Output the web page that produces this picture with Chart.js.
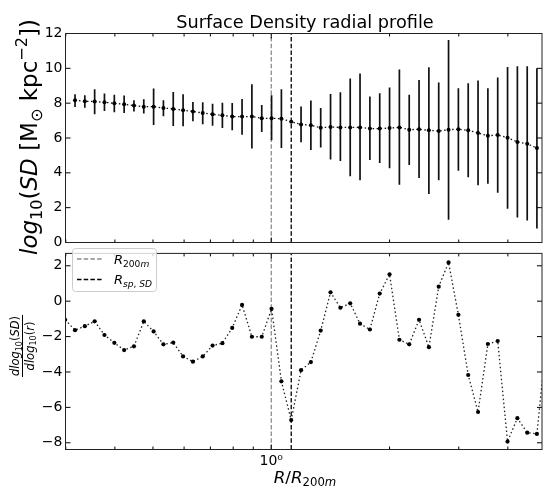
<!DOCTYPE html>
<html><head><meta charset="utf-8">
<script src="https://cdn.jsdelivr.net/npm/chart.js@4.4.1/dist/chart.umd.min.js"></script>
<style>
html,body{margin:0;padding:0;background:#fff;}
#wrap{position:relative;width:546px;height:486px;overflow:hidden;background:#fff;}
#cTop{position:absolute;left:0;top:0;width:546px;height:262px;}
#cBot{position:absolute;left:0;top:242px;width:546px;height:244px;}
</style></head><body>
<div id="wrap"><canvas id="cTop" width="546" height="262"></canvas><canvas id="cBot" width="546" height="244"></canvas></div>
<script>
// ---------- data ----------
const radius = [0.3167,0.3354,0.3553,0.3763,0.3987,0.4223,0.4473,0.4738,0.5019,0.5316,0.5631,0.5965,0.6319,0.6693,0.7090,0.7510,0.7955,0.8427,0.8927,0.9458,1.0018,1.0612,1.1241,1.1907,1.2613,1.3361,1.4153,1.4993,1.5882,1.6823,1.7823,1.8880,2.0000,2.1186,2.2442,2.3773,2.5183,2.6677,2.8259,2.9934,3.1709,3.3590,3.5583,3.7693,3.9928,4.2296,4.4805,4.7424];
const logSD = [8.17,8.11,8.09,8.05,7.99,7.94,7.86,7.80,7.80,7.72,7.67,7.59,7.52,7.44,7.36,7.30,7.23,7.23,7.23,7.13,7.13,7.11,6.93,6.78,6.73,6.59,6.63,6.61,6.61,6.61,6.54,6.54,6.57,6.61,6.48,6.50,6.44,6.40,6.48,6.50,6.44,6.29,6.13,6.17,6.02,5.77,5.67,5.42];
const logSDHigh = [8.51,8.45,8.80,8.55,8.49,8.44,8.17,8.22,8.84,8.17,8.64,8.51,8.07,8.05,7.97,8.03,8.01,8.24,9.09,7.90,8.45,8.80,null,7.81,8.15,7.72,8.53,8.63,9.41,9.70,8.38,8.57,8.90,9.93,8.49,9.33,10.06,9.18,11.62,8.86,9.14,9.30,8.86,9.47,10.08,10.12,10.12,10.01];
const logSDLow = [7.78,7.74,7.36,7.55,7.48,7.44,7.52,7.40,6.75,7.25,6.69,6.67,6.96,6.79,6.71,6.57,6.44,6.19,5.39,6.34,5.87,5.42,null,5.76,5.31,5.46,4.77,4.68,3.81,3.57,4.73,4.56,4.27,3.32,4.45,3.70,2.78,3.57,1.31,4.12,3.74,3.28,3.37,2.86,1.94,1.44,1.27,0.80];
const slopeRadius = [0.2989,0.3167,0.3354,0.3553,0.3763,0.3987,0.4223,0.4473,0.4738,0.5019,0.5316,0.5631,0.5965,0.6319,0.6693,0.7090,0.7510,0.7955,0.8427,0.8927,0.9458,1.0018,1.0612,1.1241,1.1907,1.2613,1.3361,1.4153,1.4993,1.5882,1.6823,1.7823,1.8880,2.0000,2.1186,2.2442,2.3773,2.5183,2.6677,2.8259,2.9934,3.1709,3.3590,3.5583,3.7693,3.9928,4.2296,4.4805,4.7424,5.0230];
const slope = [-1.05,-1.64,-1.41,-1.14,-1.91,-2.35,-2.76,-2.55,-1.14,-1.71,-2.44,-2.34,-3.12,-3.42,-3.12,-2.51,-2.37,-1.51,-0.21,-2.01,-2.01,-0.43,-4.53,-6.72,-3.90,-3.44,-1.66,0.50,-0.37,-0.12,-1.27,-1.60,0.43,1.52,-2.18,-2.44,-1.05,-2.60,0.82,2.19,-0.77,-4.17,-6.26,-2.42,-2.25,-7.93,-6.61,-7.43,-7.50,-2.00];
const R200m = 1.0;
const Rsp = 1.1241;
const xLimits = [0.2995, 4.886];
const topYLimits = [0, 12];
const botYLimits = [-8.38, 2.70];
const topYTicks = [0,2,4,6,8,10,12];
const botYTicks = [-8,-6,-4,-2,0,2];
const xMajorTicks = [1];
const xMinorTicks = [0.3,0.4,0.5,0.6,0.7,0.8,0.9,2,3,4];

// ---------- helpers ----------
const FF = '"DejaVu Sans"';
function fnt(style, size){ return style + ' ' + size + 'px ' + FF; }
function drawRich(ctx, parts, x, y, rot, align){
  ctx.save(); ctx.translate(x, y); if (rot) ctx.rotate(rot);
  let w = 0; for (const p of parts){ ctx.font = p.f; w += ctx.measureText(p.t).width; }
  let cx = align === 'center' ? -w/2 : 0;
  ctx.textBaseline = 'alphabetic'; ctx.textAlign = 'left'; ctx.fillStyle = '#000';
  for (const p of parts){ ctx.font = p.f; ctx.fillText(p.t, cx, p.dy || 0); cx += ctx.measureText(p.t).width; }
  ctx.restore();
  return w;
}
function drawFrame(chart, yTicks){
  const {ctx, chartArea: a, scales} = chart;
  const xs = scales.x, ys = scales.y;
  ctx.save();
  ctx.strokeStyle = '#000'; ctx.lineWidth = 1;
  ctx.beginPath();
  const vt = (v, len) => { const px = xs.getPixelForValue(v);
    ctx.moveTo(px, a.top); ctx.lineTo(px, a.top + len);
    ctx.moveTo(px, a.bottom); ctx.lineTo(px, a.bottom - len); };
  xMajorTicks.forEach(v => vt(v, 5));
  xMinorTicks.forEach(v => vt(v, 3));
  yTicks.forEach(v => { const py = ys.getPixelForValue(v);
    ctx.moveTo(a.left, py); ctx.lineTo(a.left + 5, py);
    ctx.moveTo(a.right, py); ctx.lineTo(a.right - 5, py); });
  ctx.stroke();
  ctx.strokeStyle = '#222';
  ctx.strokeRect(a.left, a.top, a.right - a.left, a.bottom - a.top);
  ctx.restore();
}
function vlineData(xv, lim){ return [{x: xv, y: lim[0]}, {x: xv, y: lim[1]}]; }
function xScale(showLabels){
  const s = {
    type: 'logarithmic', min: xLimits[0], max: xLimits[1], offset: false,
    display: showLabels,
    grid: {display: false, drawTicks: false}, border: {display: false},
    afterBuildTicks: sc => { sc.ticks = xMajorTicks.map(v => ({value: v})); },
    ticks: {autoSkip: false, maxRotation: 0, padding: 3, color: '#000', font: {family: 'DejaVu Sans', size: 14},
      callback: v => (v === 1 ? '10\u2070' : '')}
  };
  if (showLabels) s.afterFit = sc => { sc.height = 36.5; };
  return s;
}
function yScale(lim, ticks, fmt){
  return {
    type: 'linear', min: lim[0], max: lim[1],
    grid: {display: false, drawTicks: false}, border: {display: false},
    afterBuildTicks: s => { s.ticks = ticks.map(v => ({value: v})); },
    ticks: {padding: 3, color: '#000', font: {family: 'DejaVu Sans', size: 14}, callback: fmt},
    afterFit: s => { s.width = 65.5; }
  };
}
const fmtNum = v => (v < 0 ? '\u2212' + Math.abs(v) : String(v));

// ---------- top panel ----------
const errBars = [];
radius.forEach((r, i) => { if (logSDLow[i] !== null && logSDHigh[i] !== null) errBars.push({x: r, y: [logSDLow[i], logSDHigh[i]]}); });

const topDecor = {
  id: 'topDecor',
  afterDraw(chart){
    const ctx = chart.ctx;
    drawFrame(chart, topYTicks);
    ctx.save();
    ctx.font = fnt('normal', 17.7); ctx.fillStyle = '#000'; ctx.textAlign = 'center'; ctx.textBaseline = 'alphabetic';
    ctx.fillText('Surface Density radial profile', 305, 28);
    ctx.restore();
    const S = 23;
    drawRich(ctx, [
      {t: 'log', f: fnt('italic', S)},
      {t: '10', f: fnt('normal', S*0.7), dy: S*0.2},
      {t: '(', f: fnt('normal', S)},
      {t: 'SD', f: fnt('italic', S)},
      {t: ' [M', f: fnt('normal', S)},
      {t: '\u2299', f: fnt('normal', S*0.7), dy: S*0.2},
      {t: ' kpc', f: fnt('normal', S)},
      {t: '\u22122', f: fnt('normal', S*0.7), dy: -S*0.42},
      {t: '])', f: fnt('normal', S)}
    ], 37, 137, -Math.PI/2, 'center');
  }
};

new Chart(document.getElementById('cTop'), {
  type: 'line',
  data: {datasets: [
    {type: 'line', data: radius.map((r, i) => ({x: r, y: logSD[i]})), borderColor: '#111', borderWidth: 1.3,
     borderDash: [1.5, 2.5], pointRadius: 2, pointBackgroundColor: '#000', pointBorderWidth: 0, tension: 0, order: 0},
    {type: 'bar', data: errBars, backgroundColor: '#111', borderWidth: 0, barThickness: 1.7, inflateAmount: 0, grouped: false, order: 1},
    {type: 'line', data: vlineData(R200m, topYLimits), borderColor: '#8c8c8c', borderWidth: 1.3, borderDash: [4.5, 2.2], pointRadius: 0, order: 2},
    {type: 'line', data: vlineData(Rsp, topYLimits), borderColor: '#000', borderWidth: 1.3, borderDash: [4.5, 2.2], pointRadius: 0, order: 3}
  ]},
  options: {
    responsive: false, animation: false, devicePixelRatio: 1,
    layout: {padding: {left: 0, right: 1.5, top: 33.5, bottom: 19.5}},
    plugins: {legend: {display: false}, tooltip: {enabled: false}, title: {display: false}},
    scales: {x: xScale(false), y: yScale(topYLimits, topYTicks, fmtNum)}
  },
  plugins: [topDecor]
});

// ---------- bottom panel ----------
const botDecor = {
  id: 'botDecor',
  afterDraw(chart){
    const ctx = chart.ctx;
    drawFrame(chart, botYTicks);
    // legend
    ctx.save();
    const bx = 72.5, by = 6.5, bw = 84, bh = 43, rr = 3;
    ctx.beginPath();
    ctx.moveTo(bx + rr, by); ctx.lineTo(bx + bw - rr, by); ctx.arcTo(bx + bw, by, bx + bw, by + rr, rr);
    ctx.lineTo(bx + bw, by + bh - rr); ctx.arcTo(bx + bw, by + bh, bx + bw - rr, by + bh, rr);
    ctx.lineTo(bx + rr, by + bh); ctx.arcTo(bx, by + bh, bx, by + bh - rr, rr);
    ctx.lineTo(bx, by + rr); ctx.arcTo(bx, by, bx + rr, by, rr); ctx.closePath();
    ctx.fillStyle = 'rgba(255,255,255,0.8)'; ctx.fill();
    ctx.strokeStyle = '#cccccc'; ctx.lineWidth = 1; ctx.stroke();
    ctx.lineWidth = 1.4; ctx.setLineDash([4.5, 2.2]);
    ctx.strokeStyle = '#8c8c8c'; ctx.beginPath(); ctx.moveTo(77, 17); ctx.lineTo(103, 17); ctx.stroke();
    ctx.strokeStyle = '#000'; ctx.beginPath(); ctx.moveTo(77, 37.5); ctx.lineTo(103, 37.5); ctx.stroke();
    ctx.restore();
    const L = 13;
    drawRich(ctx, [{t: 'R', f: fnt('italic', L)}, {t: '200', f: fnt('normal', L*0.7), dy: 3}, {t: 'm', f: fnt('italic', L*0.7), dy: 3}], 114, 21.5, 0, 'left');
    drawRich(ctx, [{t: 'R', f: fnt('italic', L)}, {t: 'sp', f: fnt('italic', L*0.7), dy: 3}, {t: ', ', f: fnt('normal', L*0.7), dy: 3}, {t: 'SD', f: fnt('italic', L*0.7), dy: 3}], 114, 41.5, 0, 'left');
    // x label
    const X = 16.7;
    drawRich(ctx, [{t: 'R', f: fnt('italic', X)}, {t: '/', f: fnt('normal', X)}, {t: 'R', f: fnt('italic', X)},
      {t: '200', f: fnt('normal', X*0.7), dy: 3}, {t: 'm', f: fnt('italic', X*0.7), dy: 3}], 305, 240.5, 0, 'center');
    // y label (fraction)
    const F = 11.5;
    ctx.save();
    ctx.translate(22.5, 104); ctx.rotate(-Math.PI/2);
    const num = [{t: 'dlog', f: fnt('italic', F)}, {t: '10', f: fnt('normal', F*0.7), dy: 2.5}, {t: '(', f: fnt('normal', F)}, {t: 'SD', f: fnt('italic', F)}, {t: ')', f: fnt('normal', F)}];
    const den = [{t: 'dlog', f: fnt('italic', F)}, {t: '10', f: fnt('normal', F*0.7), dy: 2.5}, {t: '(', f: fnt('normal', F)}, {t: 'r', f: fnt('italic', F)}, {t: ')', f: fnt('normal', F)}];
    const wn = drawRich(ctx, num, 0, -3.5, 0, 'center');
    drawRich(ctx, den, 0, 11, 0, 'center');
    ctx.fillStyle = '#000'; ctx.fillRect(-wn/2 - 1, -0.5, wn + 2, 1);
    ctx.restore();
  }
};

new Chart(document.getElementById('cBot'), {
  type: 'line',
  data: {datasets: [
    {type: 'line', data: slopeRadius.map((r, i) => ({x: r, y: slope[i]})), borderColor: '#222', borderWidth: 1.3,
     borderDash: [1.5, 2.5], pointRadius: 2.1, pointBackgroundColor: '#000', pointBorderWidth: 0, tension: 0, order: 0},
    {type: 'line', data: vlineData(R200m, botYLimits), borderColor: '#8c8c8c', borderWidth: 1.3, borderDash: [4.5, 2.2], pointRadius: 0, order: 2},
    {type: 'line', data: vlineData(Rsp, botYLimits), borderColor: '#000', borderWidth: 1.3, borderDash: [4.5, 2.2], pointRadius: 0, order: 3}
  ]},
  options: {
    responsive: false, animation: false, devicePixelRatio: 1,
    layout: {padding: {left: 0, right: 1.5, top: 0.5, bottom: 0}},
    plugins: {legend: {display: false}, tooltip: {enabled: false}, title: {display: false}},
    scales: {x: xScale(true), y: yScale(botYLimits, botYTicks, fmtNum)}
  },
  plugins: [botDecor]
});
</script>
</body></html>
